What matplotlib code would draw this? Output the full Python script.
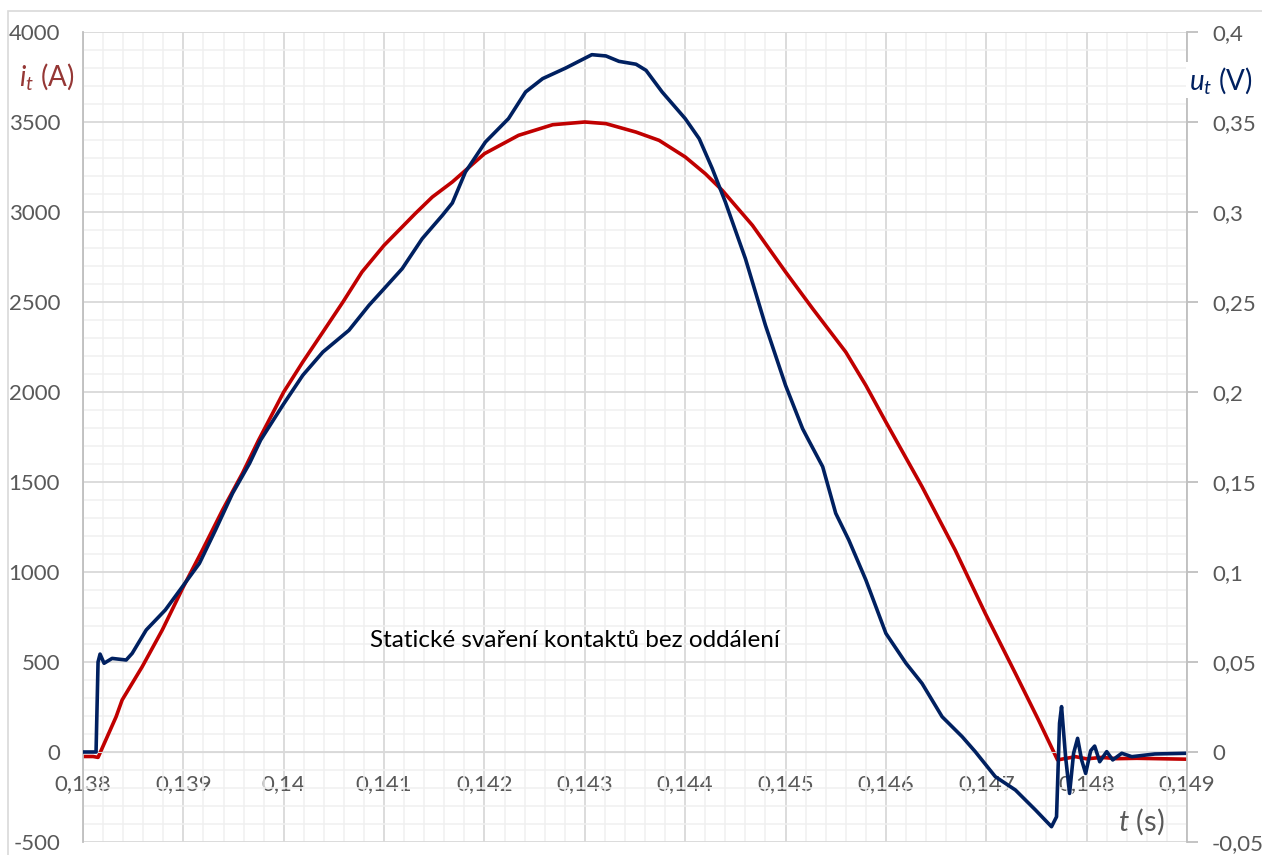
import matplotlib
matplotlib.use("Agg")
import matplotlib.pyplot as plt
from matplotlib.ticker import MultipleLocator, FuncFormatter
from matplotlib.patches import Rectangle

plt.rcParams['font.family'] = ['Lato', 'DejaVu Sans']
plt.rcParams['mathtext.fontset'] = 'custom'
plt.rcParams['mathtext.it'] = 'Lato:italic'
plt.rcParams['mathtext.rm'] = 'Lato'

# proud i_t (A)
t_i = [0.13800, 0.13810, 0.13815, 0.13833, 0.13839, 0.13859, 0.13879, 0.13900,
       0.13919, 0.13939, 0.13959, 0.13975, 0.14000, 0.14019, 0.14039, 0.14059,
       0.14078, 0.14100, 0.14118, 0.14131, 0.14148, 0.14168, 0.14200, 0.14234,
       0.14268, 0.14300, 0.14321, 0.14351, 0.14374, 0.14400, 0.14420, 0.14437,
       0.14467, 0.14500, 0.14527, 0.14560, 0.14580, 0.14600, 0.14636, 0.14669,
       0.14699, 0.14729, 0.14752, 0.14771, 0.14789, 0.14800, 0.14815, 0.14830,
       0.14850, 0.14900]
i_t = [-25, -25, -30, 196, 289, 474, 678, 918,
       1122, 1344, 1550, 1733, 2000, 2167, 2333, 2500,
       2667, 2815, 2917, 2991, 3083, 3167, 3324, 3426,
       3485, 3500, 3491, 3444, 3398, 3306, 3213, 3120,
       2926, 2667, 2463, 2222, 2037, 1833, 1474, 1122,
       770, 437, 178, -44, -26, -38, -30, -37,
       -35, -40]

# napeti u_t (V)
t_u = [0.13800, 0.13813, 0.13815, 0.13817, 0.13821, 0.13829, 0.13843, 0.13849,
       0.13863, 0.13882, 0.13899, 0.13916, 0.13932, 0.13949, 0.13966, 0.13977,
       0.13999, 0.14019, 0.14039, 0.14065, 0.14085, 0.14100, 0.14118, 0.14138,
       0.14158, 0.14168, 0.14181, 0.14201, 0.14224, 0.14241, 0.14258, 0.14281,
       0.14307, 0.14321, 0.14334, 0.14351, 0.14361, 0.14377, 0.14400, 0.14414,
       0.14427, 0.14440, 0.14460, 0.14480, 0.14500, 0.14517, 0.14523, 0.14537,
       0.14550, 0.14563, 0.14580, 0.14600, 0.14620, 0.14636, 0.14656, 0.14676,
       0.14689, 0.14709, 0.14729, 0.14749, 0.14765, 0.14770, 0.14773, 0.14775,
       0.14779, 0.14783, 0.14787, 0.14791, 0.14795, 0.14799, 0.14804, 0.14808,
       0.14813, 0.14820, 0.14826, 0.14835, 0.14845, 0.14868, 0.14900]
u_t = [0.0, 0.0, 0.050, 0.0544, 0.0493, 0.0520, 0.0511, 0.0548,
       0.0678, 0.0789, 0.0918, 0.1048, 0.1233, 0.1437, 0.1604, 0.1733,
       0.1926, 0.2093, 0.2222, 0.2343, 0.2482, 0.2574, 0.2685, 0.2852,
       0.2981, 0.3050, 0.3222, 0.3389, 0.3519, 0.3667, 0.3741, 0.3800,
       0.3874, 0.3867, 0.3837, 0.3821, 0.3787, 0.3667, 0.3519, 0.3407,
       0.3241, 0.3056, 0.2741, 0.2370, 0.2037, 0.1796, 0.1732, 0.1585,
       0.1326, 0.1178, 0.0956, 0.0659, 0.0493, 0.0381, 0.0196, 0.0085,
       0.0002, -0.0137, -0.0211, -0.0322, -0.0415, -0.0360, 0.0160, 0.0252,
       -0.0026, -0.0230, -0.0007, 0.0076, -0.0044, -0.0119, 0.0007, 0.0033,
       -0.0054, 0.0002, -0.0044, -0.0007, -0.0026, -0.0011, -0.0007]

popisek = 'Statické svaření kontaktů bez oddálení'

red = '#c00000'
navy = '#002060'
gray = '#595959'


def carka(v, pos):
    return f'{round(v, 6):g}'.replace('.', ',')


fig = plt.figure(figsize=(12.62, 8.55), dpi=100)
fig.patches.append(Rectangle((8 / 1262, -0.1), 1.2, (855 - 11) / 855 + 0.1,
                             transform=fig.transFigure, fill=False,
                             edgecolor='#d9d9d9', lw=1.2))

ax = fig.add_axes([83 / 1262, 13 / 855, 1104 / 1262, 810 / 855])
ax.set_xlim(0.138, 0.149)
ax.set_ylim(-500, 4000)
ax.xaxis.set_major_locator(MultipleLocator(0.001))
ax.xaxis.set_minor_locator(MultipleLocator(0.0002))
ax.yaxis.set_major_locator(MultipleLocator(500))
ax.yaxis.set_minor_locator(MultipleLocator(100))
ax.grid(which='major', color='#d9d9d9', lw=1.3)
ax.grid(which='minor', color='#f0f0f0', lw=1.1)
ax.set_axisbelow(True)
ax.xaxis.set_major_formatter(FuncFormatter(carka))
ax.yaxis.set_major_formatter(FuncFormatter(carka))
ax.spines['bottom'].set_position(('data', 0))
ax.spines['bottom'].set_color('#d9d9d9')
ax.spines['top'].set_visible(False)
ax.spines['right'].set_visible(False)
ax.spines['left'].set_color('#bfbfbf')
ax.spines['left'].set_linewidth(1.3)
ax.tick_params(which='both', length=0)
ax.tick_params(axis='x', pad=16, labelsize=16, labelcolor=gray)
ax.tick_params(axis='y', pad=16.5, labelsize=16, labelcolor=gray)

ax.plot(t_i, i_t, color=red, lw=2.6, solid_joinstyle='round')

ax2 = ax.twinx()
ax2.set_ylim(-0.05, 0.4)
ax2.yaxis.set_major_locator(MultipleLocator(0.05))
ax2.yaxis.set_major_formatter(FuncFormatter(carka))
for s in ['top', 'left', 'bottom']:
    ax2.spines[s].set_visible(False)
ax2.spines['right'].set_color('#bfbfbf')
ax2.spines['right'].set_linewidth(1.3)
ax2.tick_params(axis='y', length=8, width=1.3, color='#bfbfbf', pad=10,
                labelsize=16, labelcolor=gray)
ax2.plot(t_u, u_t, color=navy, lw=2.6, solid_joinstyle='round')

fig.text(47 / 1262, 1 - 76 / 855, r'$i_t$ (A)', color='#953735', fontsize=20,
         ha='center', va='center',
         bbox=dict(facecolor='white', edgecolor='none', pad=4))
fig.text(1221 / 1262, 1 - 80 / 855, r'$u_t$ (V)', color=navy, fontsize=20,
         ha='center', va='center',
         bbox=dict(facecolor='white', edgecolor='none', pad=2))
fig.text(1141 / 1262, 1 - 822 / 855, r'$t$ (s)', color=gray, fontsize=21,
         ha='center', va='center')
ax.text(0.1429, 617, popisek, fontsize=17.5, color='black', ha='center',
        va='center')

fig.savefig('out.png', dpi=100)
